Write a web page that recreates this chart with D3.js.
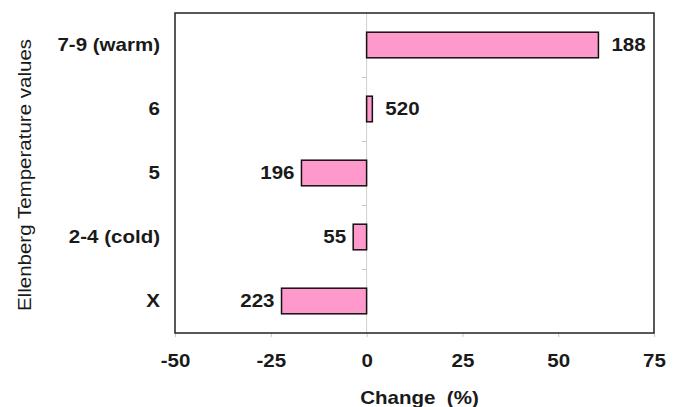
<!DOCTYPE html>
<html>
<head>
<meta charset="utf-8">
<script src="https://cdn.jsdelivr.net/npm/d3@7"></script>
<style>
  html, body { margin: 0; padding: 0; background: #fff; }
  svg { display: block; font-family: "Liberation Sans", Arial, sans-serif; }
</style>
</head>
<body>
<svg id="chart" width="683" height="407"></svg>
<script>
// Ellenberg temperature classes, top to bottom
const categories = ["7-9 (warm)", "6", "5", "2-4 (cold)", "X"];
// Percentage change for each class
const changes = [60.5, 1.5, -17, -3.5, -22.2];
// Number of species in each class (shown beside the bars)
const counts = [188, 520, 196, 55, 223];
const xTicks = [-50, -25, 0, 25, 50, 75];

const svg = d3.select("#chart");
const m = { left: 175, right: 654, top: 13, bottom: 333 };
const FS = 18;      // label font size
const SX = 1.14;    // horizontal stretch of the lettering

const x = d3.scaleLinear().domain([-50, 75]).range([m.left, m.right]);
const y = d3.scaleBand().domain(categories).range([m.top, m.bottom]).paddingInner(0.6).paddingOuter(0.3);
const yBounds = d3.scaleBand().domain(categories).range([m.top, m.bottom]);

// text placed at (px, py) and stretched horizontally about its anchor
function label(parent, px, py, str, anchor, weight) {
  return parent.append("text")
    .attr("transform", `translate(${px},${py}) scale(${SX},1)`)
    .attr("text-anchor", anchor)
    .attr("font-size", FS)
    .attr("font-weight", weight)
    .attr("fill", "#1a1a1a")
    .attr("xml:space", "preserve")
    .text(str);
}

// zero reference line
svg.append("line")
  .attr("x1", x(0)).attr("x2", x(0))
  .attr("y1", m.top).attr("y2", m.bottom)
  .attr("stroke", "#d0d0d0").attr("stroke-width", 1);

// category boundary ticks on the zero line
svg.selectAll(".ctick").data(categories.slice(1)).join("line")
  .attr("x1", x(0) - 5).attr("x2", x(0))
  .attr("y1", d => Math.round(yBounds(d)) + 0.5)
  .attr("y2", d => Math.round(yBounds(d)) + 0.5)
  .attr("stroke", "#c8c8c8");

// bottom axis
const xAxis = svg.append("g")
  .attr("transform", `translate(0,${m.bottom})`)
  .call(d3.axisBottom(x).tickValues(xTicks).tickSize(4).tickPadding(0).tickFormat(d => String(d)));
xAxis.select(".domain").remove();
xAxis.selectAll(".tick line").attr("stroke", "#c8c8c8");
xAxis.selectAll(".tick text")
  .attr("y", 34).attr("dy", null)
  .attr("transform", `scale(${SX},1)`)
  .attr("font-size", FS).attr("font-weight", "bold").attr("fill", "#1a1a1a")
  .attr("font-family", "Liberation Sans, Arial, sans-serif");

// category labels
categories.forEach(d => {
  label(svg, 160, yBounds(d) + yBounds.bandwidth() / 2 + 6.3, d, "end", "bold");
});

// bars
svg.selectAll(".bar").data(categories).join("rect")
  .attr("x", (d, i) => x(Math.min(0, changes[i])))
  .attr("y", d => y(d))
  .attr("width", (d, i) => Math.abs(x(changes[i]) - x(0)))
  .attr("height", y.bandwidth())
  .attr("fill", "#ff99cc")
  .attr("stroke", "#111").attr("stroke-width", 1.5);

// count labels beside bar ends
categories.forEach((d, i) => {
  const v = changes[i];
  const px = v >= 0 ? x(v) + 13 : x(v) - 7;
  label(svg, px, y(d) + y.bandwidth() / 2 + 6.3, String(counts[i]), v >= 0 ? "start" : "end", "bold");
});

// plot frame
svg.append("rect")
  .attr("x", m.left).attr("y", m.top)
  .attr("width", m.right - m.left).attr("height", m.bottom - m.top)
  .attr("fill", "none").attr("stroke", "#222").attr("stroke-width", 1.5);

// axis titles
label(svg, (m.left + m.right) / 2 + 5, 404, "Change  (%)", "middle", "bold");

svg.append("text")
  .attr("transform", `translate(31,${(m.top + m.bottom) / 2 + 2}) rotate(-90) scale(${SX},1)`)
  .attr("text-anchor", "middle")
  .attr("font-size", FS).attr("fill", "#1a1a1a")
  .text("Ellenberg Temperature values");
</script>
</body>
</html>
